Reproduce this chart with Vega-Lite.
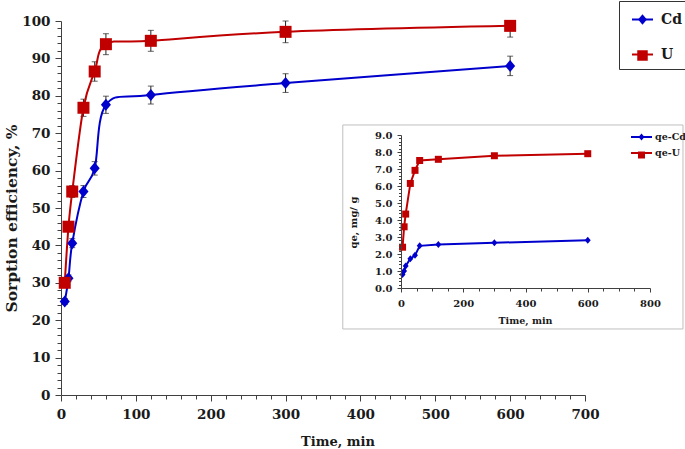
{
  "$schema": "https://vega.github.io/schema/vega-lite/v6.json",
  "width": 524,
  "height": 374,
  "autosize": {"type": "none"},
  "padding": {"left": 61, "top": 21, "right": 100, "bottom": 54},
  "background": "white",
  "config": {
    "view": {"stroke": null},
    "font": "DejaVu Serif",
    "axis": {
      "grid": false,
      "domainColor": "#404040",
      "tickColor": "#404040",
      "domainWidth": 1,
      "tickWidth": 1,
      "labelColor": "#1a1a1a",
      "titleColor": "#1a1a1a",
      "labelFont": "DejaVu Serif",
      "titleFont": "DejaVu Serif",
      "labelFontWeight": "bold",
      "titleFontWeight": "bold",
      "labelFlush": false,
      "labelOverlap": false
    }
  },
  "datasets": {
    "main": [
      {"s": "Cd", "t": 5, "v": 25.0, "lo": 24.2, "hi": 25.8},
      {"s": "Cd", "t": 10, "v": 31.2, "lo": 30.3, "hi": 32.1},
      {"s": "Cd", "t": 15, "v": 40.6, "lo": 39.4, "hi": 41.8},
      {"s": "Cd", "t": 30, "v": 54.4, "lo": 52.8, "hi": 56.0},
      {"s": "Cd", "t": 45, "v": 60.6, "lo": 58.8, "hi": 62.4},
      {"s": "Cd", "t": 60, "v": 77.6, "lo": 75.3, "hi": 79.9},
      {"s": "Cd", "t": 120, "v": 80.2, "lo": 77.8, "hi": 82.6},
      {"s": "Cd", "t": 300, "v": 83.4, "lo": 80.9, "hi": 85.9},
      {"s": "Cd", "t": 600, "v": 88.0, "lo": 85.4, "hi": 90.6},
      {"s": "U", "t": 5, "v": 30.0, "lo": 29.1, "hi": 30.9},
      {"s": "U", "t": 10, "v": 45.0, "lo": 43.7, "hi": 46.3},
      {"s": "U", "t": 15, "v": 54.4, "lo": 52.8, "hi": 56.0},
      {"s": "U", "t": 30, "v": 76.8, "lo": 74.5, "hi": 79.1},
      {"s": "U", "t": 45, "v": 86.5, "lo": 83.9, "hi": 89.1},
      {"s": "U", "t": 60, "v": 93.8, "lo": 91.0, "hi": 96.6},
      {"s": "U", "t": 120, "v": 94.7, "lo": 91.9, "hi": 97.5},
      {"s": "U", "t": 300, "v": 97.1, "lo": 94.2, "hi": 100.0},
      {"s": "U", "t": 600, "v": 98.7, "lo": 95.7, "hi": 100.0}
    ],
    "inset": [
      {"s": "qe-Cd", "t": 5, "q": 0.80},
      {"s": "qe-Cd", "t": 10, "q": 1.00},
      {"s": "qe-Cd", "t": 15, "q": 1.30},
      {"s": "qe-Cd", "t": 30, "q": 1.72},
      {"s": "qe-Cd", "t": 45, "q": 1.92},
      {"s": "qe-Cd", "t": 60, "q": 2.48},
      {"s": "qe-Cd", "t": 120, "q": 2.56},
      {"s": "qe-Cd", "t": 300, "q": 2.66},
      {"s": "qe-Cd", "t": 600, "q": 2.81},
      {"s": "qe-U", "t": 5, "q": 2.40},
      {"s": "qe-U", "t": 10, "q": 3.60},
      {"s": "qe-U", "t": 15, "q": 4.35},
      {"s": "qe-U", "t": 30, "q": 6.15},
      {"s": "qe-U", "t": 45, "q": 6.92},
      {"s": "qe-U", "t": 60, "q": 7.50},
      {"s": "qe-U", "t": 120, "q": 7.57},
      {"s": "qe-U", "t": 300, "q": 7.78},
      {"s": "qe-U", "t": 600, "q": 7.90}
    ]
  },
  "layer": [
    {
      "data": {"name": "main"},
      "layer": [
        {
          "mark": {"type": "errorbar", "orient": "vertical", "ticks": {"size": 6, "color": "#222222"}, "rule": {"color": "#222222", "strokeWidth": 1}},
          "encoding": {
            "x": {
              "field": "t", "type": "quantitative",
              "scale": {"domain": [0, 700], "nice": false, "zero": false},
              "axis": {
                "orient": "bottom",
                "values": [0,20,40,60,80,100,120,140,160,180,200,220,240,260,280,300,320,340,360,380,400,420,440,460,480,500,520,540,560,580,600,620,640,660,680,700],
                "tickCount": 500,
                "format": "d",
                "labelOverlap": false,
                "labelExpr": "datum.value % 100 === 0 ? format(datum.value, 'd') : ''",
                "tickSize": {"condition": {"test": "datum.value % 100 === 0", "value": 6}, "value": 4},
                "labelFontSize": 13.5,
                "labelPadding": 6,
                "title": "Time, min",
                "titleFontSize": 13,
                "titleX": 276.5,
                "titleY": 46.7,
                "titleBaseline": "middle"
              }
            },
            "y": {
              "field": "lo", "type": "quantitative",
              "scale": {"domain": [0, 100], "nice": false, "zero": false},
              "axis": {
                "orient": "left",
                "values": [0,2,4,6,8,10,12,14,16,18,20,22,24,26,28,30,32,34,36,38,40,42,44,46,48,50,52,54,56,58,60,62,64,66,68,70,72,74,76,78,80,82,84,86,88,90,92,94,96,98,100],
                "tickCount": 500,
                "format": "d",
                "labelOverlap": false,
                "labelExpr": "datum.value % 10 === 0 ? format(datum.value, 'd') : ''",
                "tickSize": {"condition": {"test": "datum.value % 10 === 0", "value": 6}, "value": 4},
                "labelFontSize": 13.5,
                "labelPadding": 5,
                "title": "Sorption efficiency, %",
                "titleFontSize": 15.5,
                "titleX": -50,
                "titleY": 197,
                "titleBaseline": "middle"
              }
            },
            "y2": {"field": "hi"}
          }
        },
        {
          "mark": {"type": "line", "interpolate": "cardinal", "strokeWidth": 2},
          "encoding": {
            "x": {"field": "t", "type": "quantitative"},
            "y": {"field": "v", "type": "quantitative"},
            "color": {
              "field": "s", "type": "nominal",
              "scale": {"domain": ["Cd", "U"], "range": ["#0000CC", "#C00000"]},
              "legend": {
                "title": null,
                "orient": "none",
                "legendX": 558,
                "legendY": -20,
                "padding": 7,
                "strokeColor": "#333333",
                "rowPadding": 16,
                "symbolSize": 441,
                "symbolType": "M-1,0L1,0",
                "symbolStrokeWidth": 2,
                "symbolOffset": 5,
                "labelOffset": 7,
                "labelFont": "DejaVu Serif",
                "labelFontSize": 14,
                "labelFontWeight": "bold",
                "labelColor": "#1a1a1a"
              }
            }
          }
        }
      ]
    },
    {
      "data": {"name": "main"},
      "mark": {"type": "point", "filled": true, "size": 576, "opacity": 1},
      "encoding": {
        "x": {"field": "t", "type": "quantitative", "scale": {"domain": [0, 700], "nice": false, "zero": false}, "axis": null},
        "y": {"field": "v", "type": "quantitative", "scale": {"domain": [0, 100], "nice": false, "zero": false}, "axis": null},
        "color": {
          "field": "s", "type": "nominal",
          "scale": {"domain": ["Cd", "U"], "range": ["#0000CC", "#C00000"]},
          "legend": {
            "title": null,
            "orient": "none",
            "legendX": 558,
            "legendY": -20,
            "padding": 7,
            "rowPadding": 16,
            "symbolSize": 441,
            "symbolOffset": 5,
            "symbolOpacity": 1,
            "labelOffset": 7,
            "labelFont": "DejaVu Serif",
            "labelFontSize": 14,
            "labelFontWeight": "bold",
            "labelExpr": "''"
          }
        },
        "shape": {
          "field": "s", "type": "nominal",
          "scale": {"domain": ["Cd", "U"], "range": ["M-0.42,0L0,-0.5L0.42,0L0,0.5Z", "M-0.5,-0.5L0.5,-0.5L0.5,0.5L-0.5,0.5Z"]},
          "legend": {
            "title": null,
            "orient": "none",
            "legendX": 558,
            "legendY": -20,
            "padding": 7,
            "rowPadding": 16,
            "symbolSize": 441,
            "symbolOffset": 5,
            "symbolOpacity": 1,
            "labelOffset": 7,
            "labelFont": "DejaVu Serif",
            "labelFontSize": 14,
            "labelFontWeight": "bold",
            "labelExpr": "''"
          }
        }
      }
    },
    {
      "data": {"name": "inset"},
      "layer": [
        {
          "data": {"values": [{}]},
          "mark": {"type": "rect", "fill": "white", "stroke": "#BFBFBF", "strokeWidth": 1},
          "encoding": {
            "x": {
              "datum": -187, "type": "quantitative",
              "scale": {"domain": [0, 800], "range": [340, 589], "nice": false, "zero": false},
              "axis": {
                "orient": "bottom",
                "offset": -107,
                "zindex": 1,
                "values": [0,50,100,150,200,250,300,350,400,450,500,550,600,650,700,750,800],
                "tickCount": 500,
                "labelOverlap": false,
                "labelExpr": "datum.value % 200 === 0 ? format(datum.value, 'd') : ''",
                "tickSize": {"condition": {"test": "datum.value % 200 === 0", "value": 4}, "value": 3},
                "labelFontSize": 10,
                "labelPadding": 6,
                "title": "Time, min",
                "titleFontSize": 9.5,
                "titleX": 464,
                "titleY": 32,
                "titleBaseline": "middle"
              }
            },
            "x2": {"datum": 906},
            "y": {
              "datum": -2.41, "type": "quantitative",
              "scale": {"domain": [0, 9], "range": [267, 114], "nice": false, "zero": false},
              "axis": {
                "orient": "left",
                "offset": -340,
                "zindex": 1,
                "values": [0,0.2,0.4,0.6,0.8,1,1.2,1.4,1.6,1.8,2,2.2,2.4,2.6,2.8,3,3.2,3.4,3.6,3.8,4,4.2,4.4,4.6,4.8,5,5.2,5.4,5.6,5.8,6,6.2,6.4,6.6,6.8,7,7.2,7.4,7.6,7.8,8,8.2,8.4,8.6,8.8,9],
                "tickCount": 500,
                "labelOverlap": false,
                "labelExpr": "abs(datum.value - round(datum.value)) < 0.01 ? format(datum.value, '.1f') : ''",
                "tickSize": {"condition": {"test": "abs(datum.value - round(datum.value)) < 0.01", "value": 4}, "value": 2.5},
                "labelFontSize": 10,
                "labelPadding": 5,
                "title": "qe, mg/ g",
                "titleFontSize": 10,
                "titleX": -48,
                "titleY": 201,
                "titleBaseline": "middle"
              }
            },
            "y2": {"datum": 9.59}
          }
        },
        {
          "mark": {"type": "line", "strokeWidth": 2},
          "encoding": {
            "x": {"field": "t", "type": "quantitative"},
            "y": {"field": "q", "type": "quantitative"},
            "color": {
              "field": "s", "type": "nominal",
              "scale": {"domain": ["qe-Cd", "qe-U"], "range": ["#0000CC", "#C00000"]},
              "legend": {
                "title": null,
                "orient": "none",
                "legendX": 572.5,
                "legendY": 108,
                "padding": 0,
                "rowPadding": 3,
                "symbolSize": 196,
                "symbolType": "M-1.5,0L1.5,0",
                "symbolStrokeWidth": 2,
                "labelOffset": 5.5,
                "labelFont": "DejaVu Serif",
                "labelFontSize": 9.5,
                "labelFontWeight": "bold",
                "labelColor": "#1a1a1a"
              }
            }
          }
        }
      ]
    },
    {
      "data": {"name": "inset"},
      "mark": {"type": "point", "filled": true, "size": 196, "opacity": 1},
      "encoding": {
        "x": {"field": "t", "type": "quantitative", "scale": {"domain": [0, 800], "range": [340, 589], "nice": false, "zero": false}, "axis": null},
        "y": {"field": "q", "type": "quantitative", "scale": {"domain": [0, 9], "range": [267, 114], "nice": false, "zero": false}, "axis": null},
        "color": {
          "field": "s", "type": "nominal",
          "scale": {"domain": ["qe-Cd", "qe-U"], "range": ["#0000CC", "#C00000"]},
          "legend": {
            "title": null,
            "orient": "none",
            "legendX": 572.5,
            "legendY": 108,
            "padding": 0,
            "rowPadding": 3,
            "symbolSize": 196,
            "symbolOpacity": 1,
            "labelOffset": 5.5,
            "labelFont": "DejaVu Serif",
            "labelFontSize": 9.5,
            "labelFontWeight": "bold",
            "labelExpr": "''"
          }
        },
        "shape": {
          "field": "s", "type": "nominal",
          "scale": {"domain": ["qe-Cd", "qe-U"], "range": ["M-0.42,0L0,-0.5L0.42,0L0,0.5Z", "M-0.5,-0.5L0.5,-0.5L0.5,0.5L-0.5,0.5Z"]},
          "legend": {
            "title": null,
            "orient": "none",
            "legendX": 572.5,
            "legendY": 108,
            "padding": 0,
            "rowPadding": 3,
            "symbolSize": 196,
            "symbolOpacity": 1,
            "labelOffset": 5.5,
            "labelFont": "DejaVu Serif",
            "labelFontSize": 9.5,
            "labelFontWeight": "bold",
            "labelExpr": "''"
          }
        }
      }
    }
  ],
  "resolve": {"scale": {"x": "independent", "y": "independent", "color": "independent", "shape": "independent"}}
}
